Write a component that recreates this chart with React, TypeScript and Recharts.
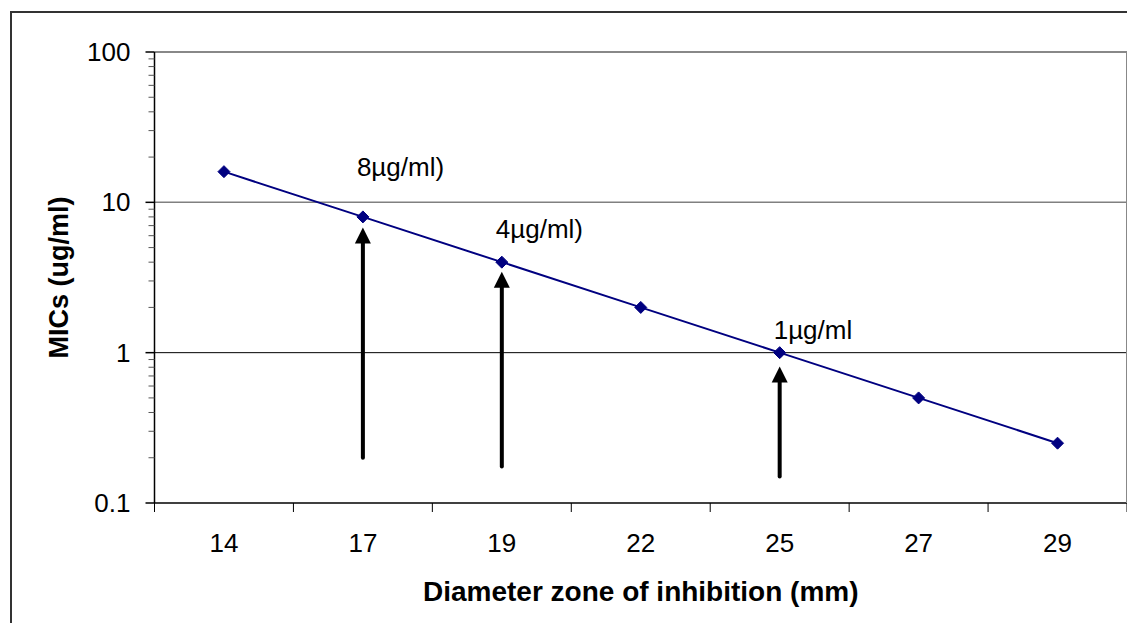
import React from 'react';
import {
  LineChart,
  Line,
  XAxis,
  YAxis,
  ReferenceLine,
  ReferenceDot,
} from 'recharts';

// zone diameters (mm) and the MIC read for each
const categories = ['14', '17', '19', '22', '25', '27', '29'];
const micValues = [16, 8, 4, 2, 1, 0.5, 0.25];

// log axis ticks
const yMajorTicks = [0.1, 1, 10, 100];
const yMinorTicks = [
  0.2, 0.3, 0.4, 0.5, 0.6, 0.7, 0.8, 0.9,
  2, 3, 4, 5, 6, 7, 8, 9,
  20, 30, 40, 50, 60, 70, 80, 90,
];

// breakpoint annotations
const noteCategories = ['17', '19', '25'];
const noteTexts = ['8µg/ml)', '4µg/ml)', '1µg/ml'];
const noteLevels = [17.2, 6.6, 1.42];
const arrowBottoms = [0.2, 0.175, 0.15];
const arrowTips = [6.8, 3.45, 0.81];

// page is 1135x631 with an 8px body margin; keep the chart inside it
const W = 1127;
const H = 615;
const MARGIN = { top: 44, right: 8, left: 30, bottom: 10 };
const Y_AXIS_W = 116.5;
const X_AXIS_H = 110;
const PLOT_W = W - MARGIN.left - Y_AXIS_W - MARGIN.right;
const PLOT_H = H - MARGIN.top - MARGIN.bottom - X_AXIS_H;
const BAND = PLOT_W / categories.length;
const LAST_CATEGORY = categories[categories.length - 1];

const FONT = '"Liberation Sans", Arial, sans-serif';
const NAVY = '#000080';

const chartData = categories.map((c, i) => ({ category: c, mic: micValues[i] }));

const YTick = (props: any) => {
  const { x, y, payload } = props;
  const major = yMajorTicks.includes(payload.value);
  return (
    <g>
      <line
        x1={x - (major ? 9 : 6)}
        x2={x}
        y1={y}
        y2={y}
        stroke={major ? '#000' : '#555'}
        strokeWidth={major ? 1.5 : 1}
      />
      {major && (
        <text
          x={x - 24}
          y={y}
          textAnchor="end"
          dominantBaseline="central"
          fontSize={26}
          fontFamily={FONT}
          fill="#000"
        >
          {String(payload.value)}
        </text>
      )}
    </g>
  );
};

const XTick = (props: any) => {
  const { x, y, payload } = props;
  const last = String(payload.value) === LAST_CATEGORY;
  const edge = x + BAND / 2;
  return (
    <g>
      <line x1={x - BAND / 2} x2={x - BAND / 2} y1={y} y2={y + 9} stroke="#000" strokeWidth={1} />
      {last && (
        <g>
          {/* right side of the plot frame */}
          <line x1={edge} x2={edge} y1={y - PLOT_H} y2={y} stroke="#888" strokeWidth={2} />
          <line x1={edge} x2={edge} y1={y} y2={y + 9} stroke="#000" strokeWidth={1} />
        </g>
      )}
      <text
        x={x}
        y={y + 40}
        textAnchor="middle"
        dominantBaseline="central"
        fontSize={26}
        fontFamily={FONT}
        fill="#000"
      >
        {payload.value}
      </text>
    </g>
  );
};

const Diamond = (props: any) => {
  const { cx, cy } = props;
  if (cx == null || cy == null) return null;
  const r = 6;
  return (
    <polygon
      points={`${cx},${cy - r} ${cx + r},${cy} ${cx},${cy + r} ${cx - r},${cy}`}
      fill={NAVY}
      stroke={NAVY}
      strokeWidth={1}
    />
  );
};

const Arrow = (props: any) => {
  const { x1, y1, y2 } = props;
  const top = Math.min(y1, y2);
  const bottom = Math.max(y1, y2);
  const x = x1;
  const head = 16;
  return (
    <g>
      <line x1={x} x2={x} y1={bottom} y2={top + head - 1} stroke="#000" strokeWidth={4} strokeLinecap="round" />
      <polygon points={`${x},${top} ${x + 8},${top + head} ${x - 8},${top + head}`} fill="#000" />
    </g>
  );
};

export default function App() {
  return (
    <div style={{ position: 'relative', width: W, height: H, fontFamily: FONT }}>
      <div
        style={{
          position: 'absolute',
          left: 2,
          top: 3,
          right: 0,
          bottom: 0,
          borderLeft: '2px solid #333',
          borderTop: '2px solid #333',
          pointerEvents: 'none',
        }}
      />
      <LineChart width={W} height={H} data={chartData} margin={MARGIN} style={{ position: 'absolute', left: 0, top: 0 }}>
        <ReferenceLine y={100} stroke="#888" strokeWidth={2} />
        <ReferenceLine y={10} stroke="#808080" strokeWidth={1.5} />
        <ReferenceLine y={1} stroke="#000" strokeWidth={1} />
        <XAxis
          dataKey="category"
          type="category"
          scale="band"
          height={X_AXIS_H}
          interval={0}
          tickLine={false}
          tickSize={0}
          tickMargin={0}
          tick={<XTick />}
          axisLine={{ stroke: '#000', strokeWidth: 1.5 }}
          label={{
            value: 'Diameter zone of inhibition (mm)',
            position: 'insideBottom',
            offset: 12,
            style: { fontSize: 28, fontWeight: 'bold', fill: '#000', fontFamily: FONT },
          }}
        />
        <YAxis
          type="number"
          scale="log"
          domain={[0.1, 100]}
          allowDataOverflow
          width={Y_AXIS_W}
          ticks={[...yMajorTicks, ...yMinorTicks]}
          interval={0}
          tickLine={false}
          tickSize={0}
          tickMargin={0}
          tick={<YTick />}
          axisLine={{ stroke: '#000', strokeWidth: 1.5 }}
          label={{
            value: 'MICs (ug/ml)',
            angle: -90,
            position: 'insideLeft',
            offset: 20.5,
            style: { fontSize: 27, fontWeight: 'bold', fill: '#000', fontFamily: FONT, textAnchor: 'middle' },
          }}
        />
        <Line
          dataKey="mic"
          stroke={NAVY}
          strokeWidth={2}
          dot={<Diamond />}
          activeDot={false}
          isAnimationActive={false}
        />
        {noteCategories.map((c, i) => (
          <ReferenceLine
            key={`arrow-${c}`}
            segment={[
              { x: c, y: arrowBottoms[i] },
              { x: c, y: arrowTips[i] },
            ]}
            shape={<Arrow />}
          />
        ))}
        {noteCategories.map((c, i) => (
          <ReferenceDot
            key={`note-${c}`}
            x={c}
            y={noteLevels[i]}
            r={0}
            shape={(p: any) => (
              <text
                x={p.cx - 6}
                y={p.cy}
                textAnchor="start"
                dominantBaseline="central"
                fontSize={26}
                fontFamily={FONT}
                fill="#000"
              >
                {noteTexts[i]}
              </text>
            )}
          />
        ))}
      </LineChart>
    </div>
  );
}
